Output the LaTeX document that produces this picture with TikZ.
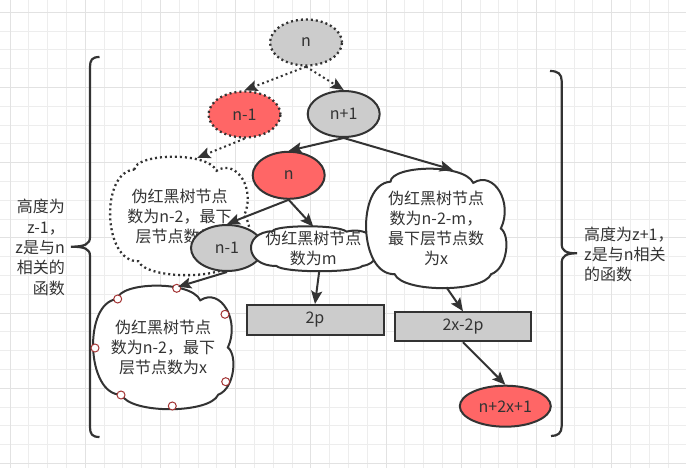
\documentclass[tikz,border=0pt]{standalone}
\usepackage{fontspec}
\setmainfont{Noto Sans CJK SC}
\usetikzlibrary{arrows.meta,shapes.geometric}
\definecolor{ink}{HTML}{333333}
\definecolor{nodegray}{HTML}{CCCCCC}
\definecolor{nodered}{HTML}{FF6666}
\definecolor{gridminor}{HTML}{EDEDED}
\definecolor{gridmajor}{HTML}{E2E2E2}
\definecolor{handlered}{HTML}{A33333}
\def\cloudat[#1](#2,#3)(#4,#5){\draw[#1,shift={(#2,#3)},x=#4pt,y=#5pt] (-.33,.40) .. controls (-.32,.54) and (.20,.56) .. (.27,.39) .. controls (.42,.50) and (.56,.22) .. (.47,0) .. controls (.54,-.06) and (.52,-.34) .. (.40,-.39) .. controls (.34,-.55) and (-.24,-.55) .. (-.30,-.39) .. controls (-.56,-.40) and (-.58,.38) .. (-.33,.40) -- cycle;}
\tikzset{
  txt/.style={font=\fontsize{16pt}{20pt}\selectfont, text=ink, align=center, inner sep=0pt},
  oval/.style={txt, ellipse, draw=ink, line width=2pt, minimum width=72pt, minimum height=46pt},
  dots/.style={dash pattern=on 2pt off 3pt},
  bar/.style={txt, rectangle, draw=ink, fill=nodegray, line width=2pt, minimum height=30pt},
  puff/.style={draw=ink, fill=white, line width=2pt},
  link/.style={draw=ink, line width=2pt, -{Stealth[length=13pt,width=11pt,inset=2.5pt]}},
  handle/.style={draw=handlered, fill=white, line width=1pt},
}

\begin{document}
\begin{tikzpicture}[x=1pt,y=-1pt]
	%%%%% GRID %%%%%
	\fill[white] (0,0) rectangle (686,468);
	\useasboundingbox (0,0) rectangle (686,468);
	\foreach \i in {0,...,35} \draw[gridminor, line width=1pt] ({10+18.8*\i},0) -- ({10+18.8*\i},468);
	\foreach \j in {0,...,24} \draw[gridminor, line width=1pt] (0,{12.3+18.8*\j}) -- (686,{12.3+18.8*\j});
	\foreach \i in {0,4,...,32} \draw[gridmajor, line width=1pt] ({10+18.8*\i},0) -- ({10+18.8*\i},468);
	\foreach \j in {0,4,...,24} \draw[gridmajor, line width=1pt] (0,{12.3+18.8*\j}) -- (686,{12.3+18.8*\j});
	
	%%%%% BRACES %%%%%
	\draw[ink, line width=2.2pt] (99.5,57) .. controls (92,57) and (90,60) .. (90,67) -- (90,237) .. controls (90,244) and (85,246.7) .. (71,246.7) .. controls (85,246.7) and (90,249) .. (90,256) -- (90,427) .. controls (90,434) and (92,437) .. (99.5,437);
	\draw[ink, line width=2.2pt] (550,71) .. controls (558,71) and (561.7,74) .. (561.7,81) -- (561.7,244) .. controls (561.7,251) and (566,253.3) .. (577,253.3) .. controls (566,253.3) and (561.7,256) .. (561.7,263) -- (561.7,426) .. controls (561.7,433) and (558,436) .. (551,436);
	\node[txt, anchor=east, align=right, font=\fontsize{16pt}{20.3pt}\selectfont] (lefth) at (65,247.5) {高度为\\z-1，\\z是与n\\相关的\\函数};
	\node[txt, anchor=west, align=left] (righth) at (584,254) {高度为z+1，\\z是与n相关\\的函数};
	
	%%%%% TREE %%%%%
	\node[oval, dots, line width=2.3pt, fill=nodegray] (ntop) at (306,42.5) {n};
	\node[oval, dots, line width=2.3pt, fill=nodered] (nleft) at (244.5,114.5) {n-1};
	\node[oval, fill=nodegray] (nright) at (343.7,114) {n+1};
	\node[oval, fill=nodered, minimum height=47pt] (nmid) at (288.7,175.3) {n};
	
	\cloudat[puff, dots, line width=2.3pt](179.5,216)(137,116)
	\node[txt, minimum width=137pt, minimum height=116pt] (cloudA) at (179.5,216) {伪红黑树节点\\数为n-2，最下\\层节点数为x};
	
	\node[oval, fill=nodegray] (nlow) at (227,248) {n-1};
	
	\cloudat[puff](313.3,248.8)(123,44)
	\node[txt, minimum width=123pt, minimum height=44pt] (cloudB) at (313.3,248.8) {伪红黑树节点\\数为m};
	
	\cloudat[puff](436,228.5)(138,117)
	\node[txt, minimum width=138pt, minimum height=117pt] (cloudC) at (436,228.5) {伪红黑树节点\\数为n-2-m，\\最下层节点数\\为x};
	
	\cloudat[puff](163,347.5)(138,121)
	\node[txt, minimum width=138pt, minimum height=121pt] (cloudD) at (163,347.5) {伪红黑树节点\\数为n-2，最下\\层节点数为x};
	\draw[handle] (176.7,288.3) circle (4);
	\draw[handle] (117.7,299) circle (4);
	\draw[handle] (225,314.3) circle (4);
	\draw[handle] (95,348) circle (4);
	\draw[handle] (225.7,381.7) circle (4);
	\draw[handle] (121,395) circle (4);
	\draw[handle] (172.3,406) circle (4);
	
	\node[bar, minimum width=137pt] (bar2p) at (315,320) {2p};
	\node[bar, minimum width=136pt, minimum height=29pt] (bar2x) at (463,326.7) {2x-2p};
	\node[oval, fill=nodered, minimum width=91pt, minimum height=41pt] (nend) at (505.3,406.2) {n+2x+1};
	
	%%%%% LINKS %%%%%
	\draw[link, dots] (ntop.south) -- (nleft.north);
	\draw[link, dots] (ntop.south) -- (nright.north);
	\draw[link, dots] (nleft.south) -- (cloudA.73);
	\draw[link] (nright.south) -- (nmid.north);
	\draw[link] (nright.south) -- (cloudC.74);
	\draw[link] (nmid.south) -- (nlow.north);
	\draw[link] (nmid.south) -- (cloudB.north);
	\draw[link] (nlow.south) -- (cloudD.76);
	\draw[link] (cloudB.-75) -- (bar2p.north);
	\draw[link] (cloudC.-80) -- (bar2x.north);
	\draw[link] (bar2x.south) -- (nend.north);
\end{tikzpicture}
\end{document}
